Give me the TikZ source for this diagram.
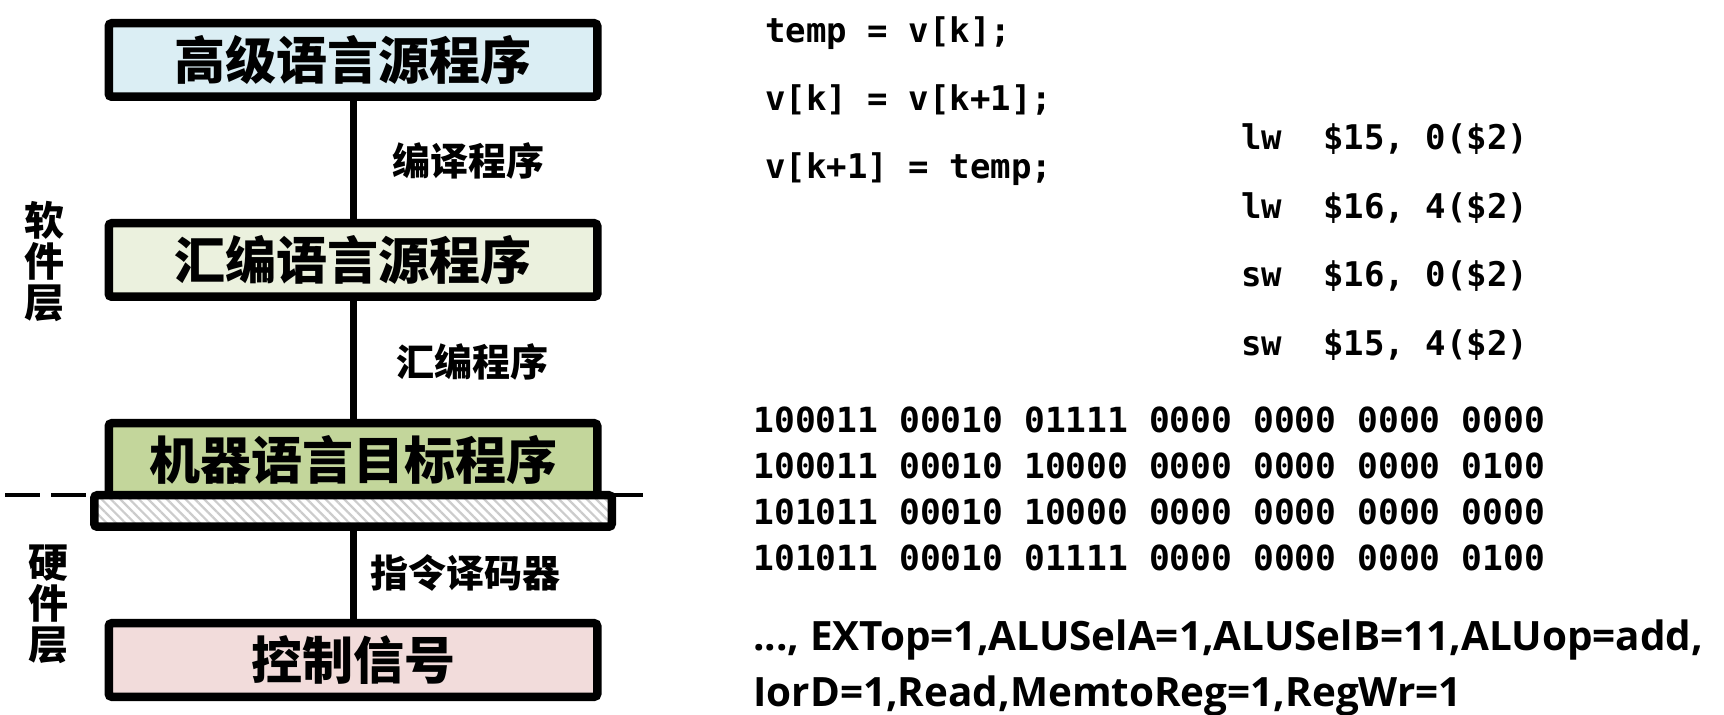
\documentclass[tikz,border=0pt]{standalone}
\usepackage{fontspec}
\newfontfamily\cjk{Noto Sans CJK SC}
\newfontfamily\codefont{DejaVu Sans Mono}
\newfontfamily\signalfont{Open Sans}
\usetikzlibrary{positioning,patterns.meta}
\frenchspacing

\definecolor{hlfill}{HTML}{DBEEF4}
\definecolor{asmfill}{HTML}{EBF1DE}
\definecolor{mcfill}{HTML}{C3D69B}
\definecolor{ctlfill}{HTML}{F2DCDB}
\definecolor{hatchgray}{HTML}{CCCCCC}

\begin{document}
\begin{tikzpicture}[%
        x=0.5pt, y=-0.5pt,
        inner sep=0pt,
        level/.style={%
            draw, line width=4.25pt, rounded corners=1.5pt,
            minimum width=244.25pt, minimum height=36.75pt,
            node font=\cjk\bfseries\fontsize{25.5}{30}\selectfont,
        },
        bar/.style={%
            draw, line width=4.25pt, rounded corners=1.5pt,
            minimum width=258.75pt, minimum height=15.75pt,
            preaction={fill=white},
            pattern={Lines[angle=-45,distance=3.3pt,line width=1.1pt]},
            pattern color=hatchgray,
        },
        link/.style={line width=3.5pt},
        linkname/.style={%
            anchor=west,
            node font=\cjk\bfseries\fontsize{19}{22}\selectfont,
        },
        layername/.style={%
            align=center,
            node font=\cjk\bfseries\fontsize{20}{20.5}\selectfont,
        },
        srcline/.style={%
            anchor=base west,
            node font=\codefont\bfseries\fontsize{17}{20}\selectfont,
        },
        binline/.style={%
            anchor=base west,
            node font=\codefont\bfseries\fontsize{17.3}{20}\selectfont,
        },
        signalline/.style={%
            anchor=base west,
            node font=\signalfont\bfseries\fontsize{20.2}{24}\selectfont,
        },
    ]

    \useasboundingbox (0,0) rectangle (1724,715);

    \coordinate (divide_left) at (5,495);
    \coordinate (divide_right) at (643,495);
    \draw [line width=2.35pt, dash pattern=on 17.5pt off 5.7pt] (divide_left) -- (divide_right);

    \node (high_level) at (353,60) [level, fill=hlfill] {高级语言源程序};
    \node (assembly) at (353,260) [level, fill=asmfill] {汇编语言源程序};
    \node (machine) at (353,460) [level, fill=mcfill] {机器语言目标程序};
    \node (interface_bar) at (353,511) [bar] {};
    \node (control) at (353,660) [level, fill=ctlfill] {控制信号};

    \draw [link] (high_level.south) -- (assembly.north);
    \draw [link] (assembly.south) -- (machine.north);
    \draw [link] (interface_bar.south) -- (control.north);

    \node (compile_name) at (392,161) [linkname] {编译程序};
    \node (assemble_name) at (396,362) [linkname] {汇编程序};
    \node (decode_name) at (370,573) [linkname] {指令译码器};

    \node (software_layer) at (45,262) [layername] {软\\件\\层};
    \node (hardware_layer) at (48,604) [layername] {硬\\件\\层};

    \node (c_line1) at (765,43) [srcline] {temp = v[k];};
    \node (c_line2) at (765,111) [srcline] {v[k] = v[k+1];};
    \node (c_line3) at (765,179) [srcline] {v[k+1] = temp;};

    \node (asm_line1) at (1241,150) [srcline] {lw\ \ \$15, 0(\$2)};
    \node (asm_line2) at (1241,219) [srcline] {lw\ \ \$16, 4(\$2)};
    \node (asm_line3) at (1241,287) [srcline] {sw\ \ \$16, 0(\$2)};
    \node (asm_line4) at (1241,356) [srcline] {sw\ \ \$15, 4(\$2)};

    \foreach \bits [count=\i] in {%
            100011 00010 01111 0000 0000 0000 0000,
            100011 00010 10000 0000 0000 0000 0100,
            101011 00010 10000 0000 0000 0000 0000,
            101011 00010 01111 0000 0000 0000 0100} {%
        \node (bin_line\i) at (753,{387+46*\i}) [binline] {\bits};
    }

    \node (signals_a) at (753,651) [signalline] {..., EXTop=1,ALUSelA=1,ALUSelB=11,ALUop=add,};
    \node (signals_b) at (753,706) [signalline] {IorD=1,Read,MemtoReg=1,RegWr=1};
\end{tikzpicture}
\end{document}
